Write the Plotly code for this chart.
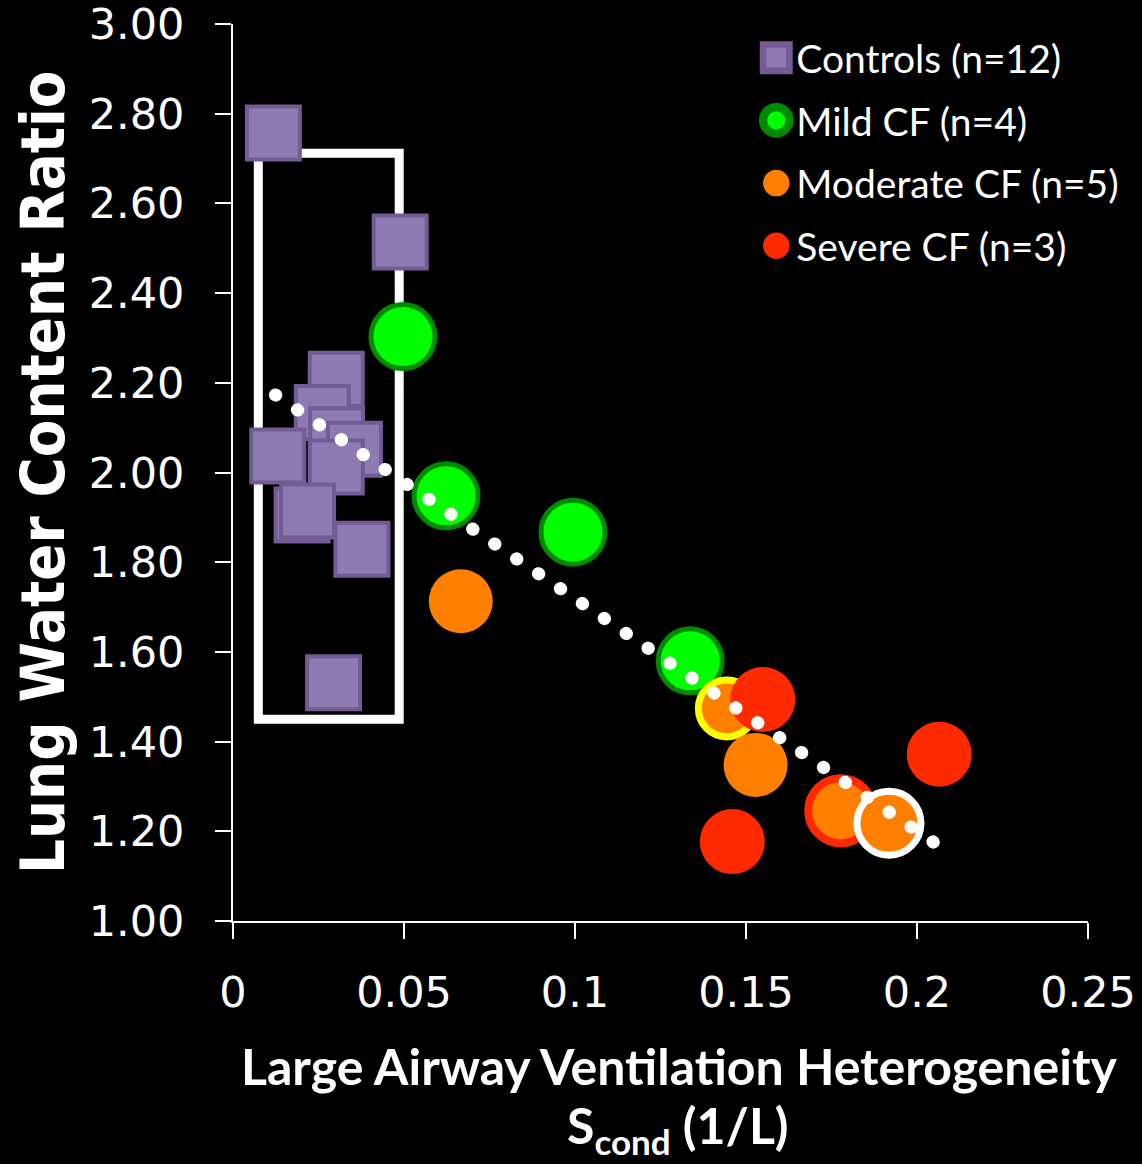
import plotly.graph_objects as go

# ---------------- data ----------------
controls_x = [0.0118, 0.0489, 0.0302, 0.0261, 0.0303, 0.0355, 0.0131, 0.0302, 0.0202, 0.0218, 0.0377, 0.0294]
controls_y = [2.757, 2.514, 2.208, 2.134, 2.084, 2.052, 2.037, 2.012, 1.905, 1.914, 1.829, 1.531]

mild_x = [0.0497, 0.0623, 0.0994, 0.1337]
mild_y = [2.303, 1.948, 1.867, 1.580]

moderate_x = [0.0666, 0.1444, 0.1528, 0.1777, 0.1918]
moderate_y = [1.713, 1.474, 1.348, 1.246, 1.218]
moderate_ring_color = ["rgba(0,0,0,0)", "#FFFF00", "rgba(0,0,0,0)", "#FF2A00", "#FFFFFF"]
moderate_ring_width = [0, 7, 0, 8, 7]

severe_x = [0.1549, 0.2065, 0.1460]
severe_y = [1.494, 1.372, 1.177]

trend_x = [0.0124, 0.2059]
trend_y = [2.173, 1.170]

box_x = [0.0074, 0.0486]
box_y = [1.450, 2.712]

y_ticks = [1.0, 1.2, 1.4, 1.6, 1.8, 2.0, 2.2, 2.4, 2.6, 2.8, 3.0]
x_ticks = [0, 0.05, 0.1, 0.15, 0.2, 0.25]
x_tick_labels = ["0", "0.05", "0.1", "0.15", "0.2", "0.25"]

names = ["Controls (n=12)", "Mild CF (n=4)", "Moderate CF (n=5)", "Severe CF (n=3)"]

# ---------------- figure ----------------
fig = go.Figure()

fig.add_trace(go.Scatter(
    x=controls_x, y=controls_y, mode="markers", name=names[0], legendgroup="a",
    marker=dict(symbol="square", size=53, color="#8E7BB4", opacity=1,
                line=dict(color="#735B94", width=4)),
))
fig.add_trace(go.Scatter(
    x=mild_x, y=mild_y, mode="markers", name=names[1], legendgroup="b",
    marker=dict(symbol="circle", size=64, color="#00FF00", opacity=1,
                line=dict(color="#008A00", width=5)),
))
fig.add_trace(go.Scatter(
    x=moderate_x, y=moderate_y, mode="markers", name=names[2], legendgroup="c",
    marker=dict(symbol="circle", size=[64, 57, 64, 65, 64], color="#FF7F00", opacity=1,
                line=dict(color=moderate_ring_color, width=moderate_ring_width)),
))
fig.add_trace(go.Scatter(
    x=severe_x, y=severe_y, mode="markers", name=names[3], legendgroup="d",
    marker=dict(symbol="circle", size=65, color="#FF2A00", opacity=1, line=dict(width=0)),
))
fig.add_trace(go.Scatter(
    x=trend_x, y=trend_y, mode="lines", showlegend=False,
    line=dict(color="#FFFFFF", width=13, dash="0.5px,26px"),
))

fig.add_shape(type="rect", xref="x", yref="y",
              x0=box_x[0], x1=box_x[1], y0=box_y[0], y1=box_y[1],
              line=dict(color="#FFFFFF", width=9), layer="below")

tick_font = dict(family="DejaVu Sans", size=43, color="#FFFFFF")
title_font = dict(family="Lato", size=50, color="#FFFFFF")

fig.update_xaxes(
    range=[0, 0.25], tickvals=x_ticks, ticktext=x_tick_labels, automargin=False,
    ticklabeloverflow="allow",
    showgrid=False, zeroline=False, showline=True, linecolor="#FFFFFF", linewidth=2,
    ticks="outside", ticklen=16, tickwidth=2, tickcolor="#FFFFFF",
    tickfont=tick_font, ticklabelstandoff=16,
)
fig.update_yaxes(
    range=[1, 3], tickvals=y_ticks, tickformat=".2f", automargin=False,
    ticklabeloverflow="allow",
    showgrid=False, zeroline=False, showline=True, linecolor="#FFFFFF", linewidth=2,
    ticks="outside", ticklen=16, tickwidth=2, tickcolor="#FFFFFF",
    tickfont=tick_font, ticklabelstandoff=22,
)

fig.add_annotation(text="<b>Lung Water Content Ratio</b>", textangle=-90,
                   xref="paper", yref="paper", x=-0.2222, y=0.5006,
                   xanchor="center", yanchor="middle", showarrow=False,
                   font=dict(family="DejaVu Sans Condensed", size=61, color="#FFFFFF"))
fig.add_annotation(text="<b>Large Airway Ventilation Heterogeneity</b>",
                   xref="paper", yref="paper", x=0.5228, y=-0.1617,
                   xanchor="center", yanchor="middle", showarrow=False, font=title_font)
fig.add_annotation(text="<b>S<sub>cond</sub> (1/L)</b>",
                   xref="paper", yref="paper", x=0.5205, y=-0.2308,
                   xanchor="center", yanchor="middle", showarrow=False, font=title_font)

fig.update_layout(
    width=1142, height=1164, autosize=False,
    margin=dict(l=233, r=54, t=24, b=243),
    paper_bgcolor="#000000", plot_bgcolor="#000000",
    showlegend=True,
    legend=dict(x=0.612, y=0.998, xanchor="left", yanchor="top",
                bgcolor="rgba(0,0,0,0)", font=dict(family="Lato", size=39, color="#FFFFFF"),
                tracegroupgap=9, itemsizing="trace"),
)

post = """
document.body.style.margin='0';
var gd=document.getElementById('{plot_id}');
var traces=gd.querySelectorAll('.scatterlayer .trace');
var last=traces[traces.length-1];
last.querySelectorAll('path.js-line').forEach(function(p){p.style.strokeLinecap='round';});
gd.querySelectorAll('.legend .legendpoints path.scatterpts').forEach(function(p){
  var t=p.getAttribute('transform')||'';
  p.setAttribute('transform', t+' scale(1.65)');
});
"""
fig.write_html("out.html", post_script=post, config={"displayModeBar": False})
